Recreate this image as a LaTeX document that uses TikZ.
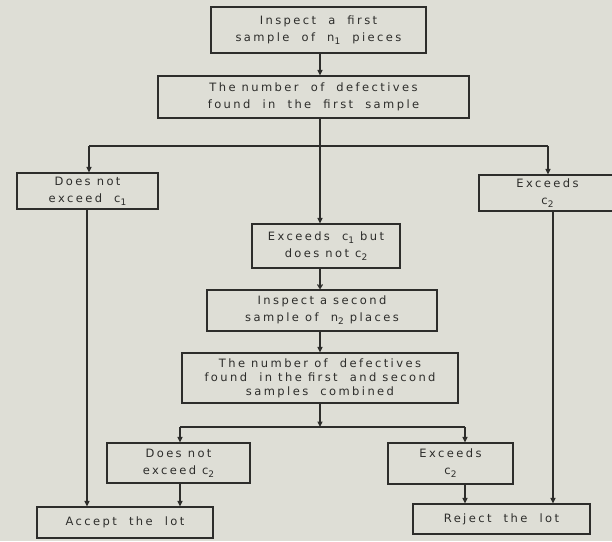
\documentclass[tikz,border=0pt]{standalone}
\usepackage{fontspec}
\setmainfont{DejaVu Sans}[LetterSpace=21]
\usetikzlibrary{arrows.meta}
\definecolor{paper}{RGB}{222,222,214}
\definecolor{ink}{RGB}{45,45,43}
\newcommand\mysub[1]{\raisebox{-0.45ex}{\fontsize{9}{9}\selectfont #1}}
\begin{document}
\begin{tikzpicture}[x=1pt,y=-1pt,
  box/.style={draw=ink, line width=1.1pt, fill=paper, align=center, inner sep=0pt,
    font=\fontsize{11.5}{17}\selectfont, text=ink},
  conn/.style={draw=ink, line width=1.1pt},
  arr/.style={conn, -{Triangle[length=5.5pt,width=5pt]}}]
\fill[paper] (0,0) rectangle (612,541);
\useasboundingbox (0,0) rectangle (612,541);

\node[box, minimum width=215, minimum height=46] (B1) at (318.5,30)
  {Inspect\ \ a\ \ first\\ sample\ \ of\ \ n\mysub{1}\ \ pieces};
\node[box, minimum width=311, minimum height=42] (B2) at (313.5,97)
  {The number\ \ of\ \ defectives\\ found\ \ in\ \ the\ \ first\ \ sample};
\node[box, minimum width=141, minimum height=36] (L1) at (87.5,191)
  {Does not\\ exceed\ \ c\mysub{1}};
\node[box, minimum width=137, minimum height=36] (R1) at (547.5,193)
  {Exceeds\\ c\mysub{2}};
\node[box, minimum width=148, minimum height=44] (M) at (326,246)
  {Exceeds\ \ c\mysub{1} but\\ does not c\mysub{2}};
\node[box, minimum width=230, minimum height=41] (B3) at (322,310.5)
  {Inspect a second\\ sample of\ \ n\mysub{2} places};
\node[box, minimum width=276, minimum height=50, font=\fontsize{11.5}{14}\selectfont] (B4) at (320,378)
  {The number of\ \ defectives\\ found\ \ in the first\ \ and second\\ samples\ \ combined};
\node[box, minimum width=143, minimum height=40] (L2) at (178.5,463)
  {Does not\\ exceed c\mysub{2}};
\node[box, minimum width=125, minimum height=41] (R2) at (450.5,463.5)
  {Exceeds\\ c\mysub{2}};
\node[box, minimum width=176, minimum height=31] (ACC) at (125,522.5)
  {Accept\ \ the\ \ lot};
\node[box, minimum width=177, minimum height=30] (REJ) at (501.5,519)
  {Reject\ \ the\ \ lot};

% junctions
\coordinate (s1) at (320,146);
\coordinate (s1l) at (89,146);
\coordinate (s1r) at (548,146);
\coordinate (s2) at (320,427);
\coordinate (s2l) at (180,427);
\coordinate (s2r) at (465,427);

\draw[arr] (B1.south -| s1) -- (B2.north -| s1);
\draw[conn] (B2.south -| s1) -- (s1);
\draw[conn] (s1l) -- (s1r);
\draw[arr] (s1l) -- (L1.north -| s1l);
\draw[arr] (s1r) -- (R1.north -| s1r);
\draw[arr] (s1) -- (M.north -| s1);
\draw[conn, -{Straight Barb[length=4pt,width=5pt]}] (M.south -| s1) -- (B3.north -| s1);
\draw[arr] (B3.south -| s1) -- (B4.north -| s1);
\draw[arr] (B4.south -| s2) -- (s2);
\draw[conn] (s2l) -- (s2r);
\draw[arr] (s2l) -- (L2.north -| s2l);
\draw[arr] (s2r) -- (R2.north -| s2r);

\coordinate (xl) at (87,0);
\coordinate (xr) at (553,0);
\draw[arr] (L1.south -| xl) -- (ACC.north -| xl);
\draw[arr] (R1.south -| xr) -- (REJ.north -| xr);
\draw[arr] (L2.south -| s2l) -- (ACC.north -| s2l);
\draw[arr] (R2.south -| s2r) -- (REJ.north -| s2r);
\end{tikzpicture}
\end{document}
